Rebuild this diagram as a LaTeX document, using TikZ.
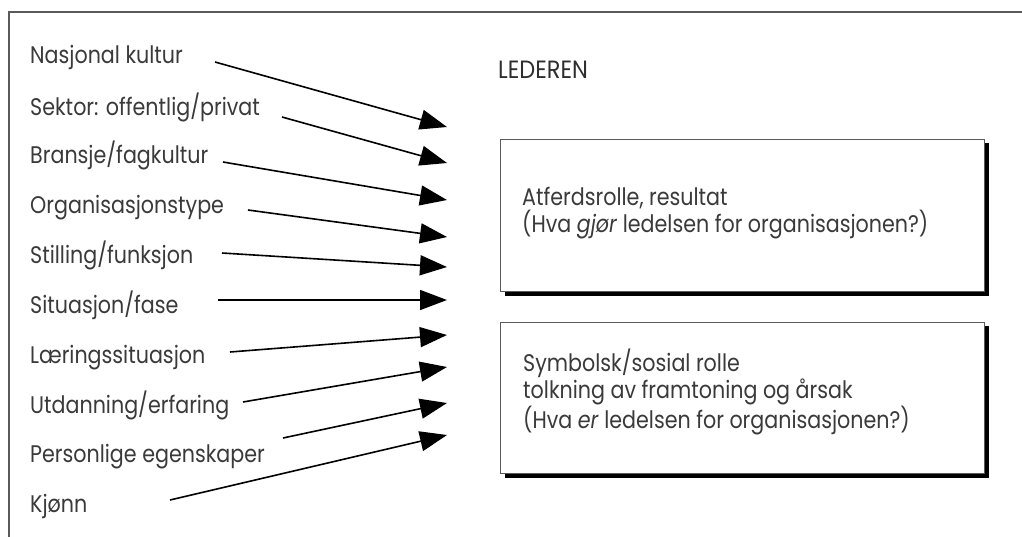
\documentclass[tikz,border=0pt]{standalone}
\usepackage{fontspec}
\setmainfont[FakeStretch=0.86]{Poppins}
\newfontfamily\headingfont[FakeStretch=0.9]{Poppins}
\usetikzlibrary{arrows.meta}
\definecolor{ink}{HTML}{3A3A3A}
\definecolor{framegray}{HTML}{5A5A5A}
\tikzset{
  factor/.style={anchor=base west, inner sep=0pt, text=ink, font=\fontsize{24}{24}\selectfont},
  heading/.style={anchor=base west, inner sep=0pt, text=ink!80!black, font=\headingfont\fontsize{25}{25}\selectfont},
  influence/.style={line width=1.6pt, -{Triangle[length=27pt,width=20pt]}},
  rolebox/.style={draw=framegray, line width=1.2pt, fill=white},
  roleshadow/.style={fill=black},
  roletext/.style={anchor=base west, inner sep=0pt, align=left, text=ink, font=\fontsize{24}{24}\selectfont}
}
\begin{document}
\begin{tikzpicture}[x=1pt, y=-1pt]
  \useasboundingbox (0,0) rectangle (1022,536);
  \fill[white] (0,0) rectangle (1022,536);

  % open outer frame (top and left edges)
  \draw[framegray, line width=2pt] (1030,12) -- (9,12) -- (9,545);

  % influencing factors
  \node[factor] (f1)  at (30,63)  {Nasjonal kultur};
  \node[factor] (f2)  at (30,115) {Sektor: offentlig/privat};
  \node[factor] (f3)  at (30,163) {Bransje/fagkultur};
  \node[factor] (f4)  at (30,213) {Organisasjonstype};
  \node[factor] (f5)  at (30,263) {Stilling/funksjon};
  \node[factor] (f6)  at (30,313) {Situasjon/fase};
  \node[factor] (f7)  at (30,363) {Læringssituasjon};
  \node[factor] (f8)  at (30,413) {Utdanning/erfaring};
  \node[factor] (f9)  at (30,462) {Personlige egenskaper};
  \node[factor] (f10) at (30,512) {Kjønn};

  \node[heading] (lead) at (498,78) {LEDEREN};

  % role boxes with drop shadow
  \fill[roleshadow] (505,143) rectangle (989,296);
  \node[rolebox, minimum width=484pt, minimum height=152pt, anchor=north west, inner sep=0pt] (b1) at (500,139) {};
  \fill[roleshadow] (505,326) rectangle (989,478);
  \node[rolebox, minimum width=484pt, minimum height=151pt, anchor=north west, inner sep=0pt] (b2) at (500,322) {};

  % multi-line texts are placed by the baseline of their last line
  \node[roletext] (t1) at (522,232) {Atferdsrolle, resultat\\(Hva \emph{gjør} ledelsen for organisasjonen?)};
  \node[roletext] (t2) at (523,428) {Symbolsk/sosial rolle\\tolkning av framtoning og årsak\\(Hva \emph{er} ledelsen for organisasjonen?)};

  % arrow start and end points
  \coordinate (s1)  at (215,62);  \coordinate (e1)  at (447,127);
  \coordinate (s2)  at (282,117); \coordinate (e2)  at (447,163);
  \coordinate (s3)  at (223,162); \coordinate (e3)  at (447,200);
  \coordinate (s4)  at (248,210); \coordinate (e4)  at (447,237);
  \coordinate (s5)  at (222,253); \coordinate (e5)  at (447,267);
  \coordinate (s6)  at (218,300); \coordinate (e6)  at (447,300);
  \coordinate (s7)  at (230,352); \coordinate (e7)  at (447,335);
  \coordinate (s8)  at (243,402); \coordinate (e8)  at (447,367);
  \coordinate (s9)  at (283,438); \coordinate (e9)  at (447,403);
  \coordinate (s10) at (170,500); \coordinate (e10) at (447,435);

  \foreach \i in {1,...,10} {
    \draw[influence] (s\i) -- (e\i);
  }
\end{tikzpicture}
\end{document}
